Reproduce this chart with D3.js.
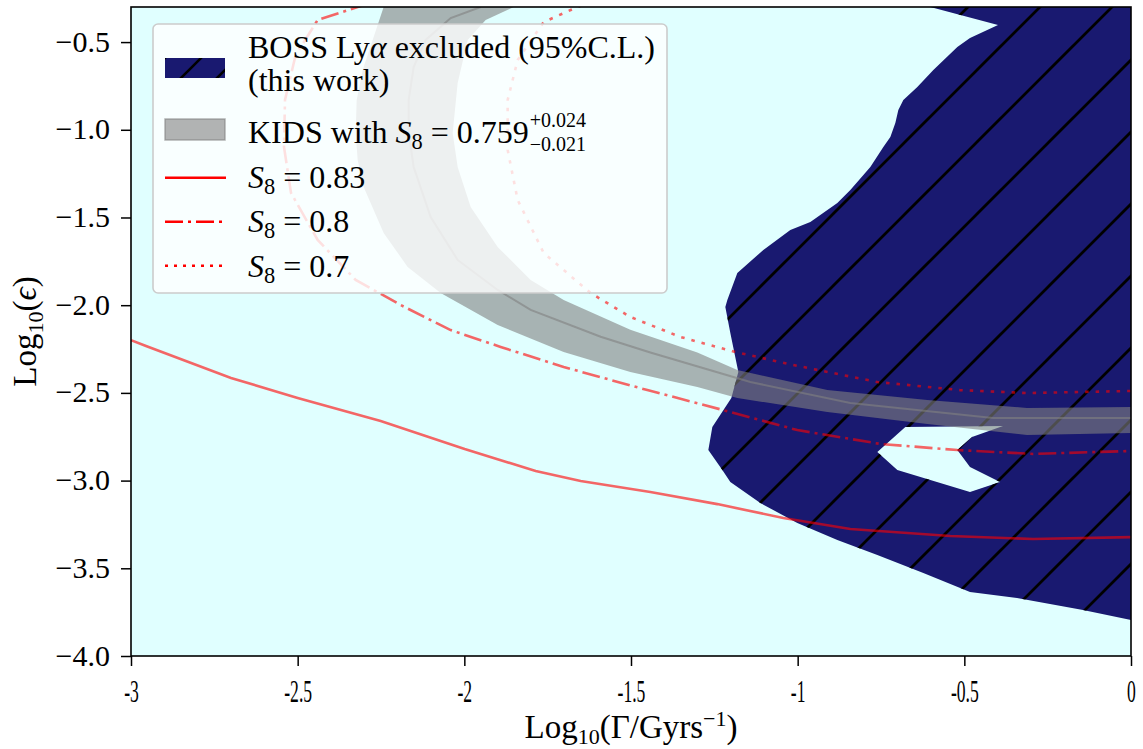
<!DOCTYPE html>
<html><head><meta charset="utf-8">
<script src="https://cdn.jsdelivr.net/npm/d3@7"></script>
<style>body{margin:0;background:#fff} svg{display:block}</style>
</head><body>
<svg id="c" width="1143" height="749"></svg>
<script>
// ---------------- data ----------------
const xDomain = [-3, 0];
const yDomain = [-4, -0.3];
const xTicks = [-3, -2.5, -2, -1.5, -1, -0.5, 0];
const xTickLabels = ["-3", "-2.5", "-2", "-1.5", "-1", "-0.5", "0"];
const yTicks = [-4.0, -3.5, -3.0, -2.5, -2.0, -1.5, -1.0, -0.5];
const yTickLabels = ["\u22124.0", "\u22123.5", "\u22123.0", "\u22122.5", "\u22122.0", "\u22121.5", "\u22121.0", "\u22120.5"];

// BOSS Ly-alpha excluded region (outer boundary) and the small allowed hole inside it
const excludedOuter = [[-0.602,-0.300],[-0.399,-0.403],[-0.483,-0.477],[-0.521,-0.528],[-0.593,-0.659],[-0.641,-0.756],[-0.683,-0.830],[-0.698,-0.887],[-0.707,-0.961],[-0.722,-1.041],[-0.743,-1.098],[-0.782,-1.212],[-0.842,-1.343],[-0.881,-1.417],[-0.962,-1.526],[-1.022,-1.571],[-1.103,-1.685],[-1.181,-1.817],[-1.211,-1.970],[-1.217,-2.010],[-1.202,-2.159],[-1.178,-2.381],[-1.199,-2.529],[-1.256,-2.695],[-1.268,-2.826],[-1.226,-2.940],[-1.202,-3.008],[-1.112,-3.128],[-1.001,-3.242],[-0.881,-3.339],[-0.761,-3.424],[-0.623,-3.527],[-0.483,-3.635],[-0.342,-3.669],[-0.144,-3.738],[0,-3.795],[0,-0.300]];
const excludedHole = [[-0.677,-2.695],[-0.384,-2.689],[-0.477,-2.752],[-0.521,-2.826],[-0.483,-2.923],[-0.393,-3.008],[-0.483,-3.065],[-0.701,-2.940],[-0.761,-2.837]];

// KIDS band S8 = 0.759 (+0.024 / -0.021)
const kidsLower = [[-2.242,-0.300],[-2.275,-0.488],[-2.305,-0.659],[-2.323,-0.830],[-2.326,-1.018],[-2.320,-1.172],[-2.302,-1.326],[-2.242,-1.588],[-2.170,-1.782],[-2.071,-1.931],[-1.900,-2.113],[-1.702,-2.267],[-1.502,-2.381],[-1.301,-2.466],[-1.181,-2.529],[-0.911,-2.609],[-0.611,-2.677],[-0.312,-2.740],[0,-2.729]];
const kidsUpper = [[-1.852,-0.300],[-1.936,-0.374],[-1.990,-0.488],[-2.020,-0.733],[-2.035,-1.018],[-2.020,-1.212],[-1.981,-1.440],[-1.900,-1.668],[-1.801,-1.856],[-1.702,-1.970],[-1.502,-2.140],[-1.301,-2.270],[-1.181,-2.370],[-0.911,-2.484],[-0.611,-2.541],[-0.312,-2.586],[0,-2.581]];
const kidsCenter = [[-1.951,-0.300],[-2.041,-0.363],[-2.116,-0.488],[-2.152,-0.642],[-2.167,-0.830],[-2.167,-1.018],[-2.152,-1.212],[-2.101,-1.497],[-2.020,-1.742],[-1.900,-1.913],[-1.801,-2.027],[-1.591,-2.180],[-1.442,-2.270],[-1.142,-2.438],[-0.842,-2.558],[-0.414,-2.643],[0,-2.643]];

// S8 contours
const s8_083 = [[-3,-2.199],[-2.955,-2.233],[-2.700,-2.415],[-2.500,-2.529],[-2.251,-2.660],[-1.999,-2.820],[-1.786,-2.945],[-1.651,-3.002],[-1.442,-3.065],[-1.241,-3.134],[-1.043,-3.213],[-0.842,-3.276],[-0.542,-3.316],[-0.294,-3.333],[0,-3.322]];
const s8_080 = [[-2.20,-0.23],[-2.320,-0.300],[-2.440,-0.374],[-2.506,-0.574],[-2.538,-0.830],[-2.541,-1.098],[-2.520,-1.360],[-2.440,-1.628],[-2.326,-1.856],[-2.191,-1.999],[-2.041,-2.142],[-1.891,-2.238],[-1.702,-2.352],[-1.451,-2.484],[-1.292,-2.563],[-1.001,-2.712],[-0.752,-2.791],[-0.521,-2.826],[-0.294,-2.848],[0,-2.831]];
const s8_070 = [[-1.59,-0.245],[-1.681,-0.317],[-1.762,-0.386],[-1.840,-0.602],[-1.870,-0.830],[-1.870,-1.115],[-1.840,-1.400],[-1.762,-1.702],[-1.621,-1.931],[-1.502,-2.067],[-1.352,-2.181],[-1.187,-2.267],[-1.013,-2.341],[-0.761,-2.438],[-0.513,-2.484],[-0.312,-2.501],[0,-2.489]];

// ---------------- drawing ----------------
const FONT = "'Liberation Serif', 'DejaVu Serif', serif";
const P = {left: 131, right: 1131, top: 7, bottom: 656};
const svg = d3.select("#c");
const x = d3.scaleLinear().domain(xDomain).range([P.left, P.right]);
const y = d3.scaleLinear().domain(yDomain).range([P.bottom, P.top]);
const line = d3.line().x(d => x(d[0])).y(d => y(d[1]));

const defs = svg.append("defs");
defs.append("clipPath").attr("id", "plotclip").append("rect")
  .attr("x", P.left).attr("y", P.top).attr("width", P.right - P.left).attr("height", P.bottom - P.top);

function hatch(id, size, off, sw) {
  const p = defs.append("pattern").attr("id", id).attr("patternUnits", "userSpaceOnUse")
    .attr("x", off).attr("y", 0).attr("width", size).attr("height", size);
  p.append("path").attr("d", `M0,${size}L${size},0M-4,4L4,-4M${size-4},${size+4}L${size+4},${size-4}`)
    .attr("stroke", "#000").attr("stroke-width", sw).attr("fill", "none");
}
hatch("hatchMain", 72, 39, 2.8);
hatch("hatchLeg", 36, 7, 2.6);

svg.append("rect").attr("width", 1143).attr("height", 749).attr("fill", "#fff");
svg.append("rect").attr("x", P.left).attr("y", P.top).attr("width", P.right - P.left)
  .attr("height", P.bottom - P.top).attr("fill", "#e0ffff");

const plot = svg.append("g").attr("clip-path", "url(#plotclip)");

const exclD = line(excludedOuter) + "Z" + line(excludedHole) + "Z";
plot.append("path").attr("d", exclD).attr("fill", "#191970").attr("fill-rule", "evenodd");
plot.append("path").attr("d", exclD).attr("fill", "url(#hatchMain)").attr("fill-rule", "evenodd");

plot.append("path").attr("d", line(kidsLower.concat(kidsUpper.slice().reverse())) + "Z")
  .attr("fill", "gray").attr("fill-opacity", 0.6);
plot.append("path").attr("d", line(kidsCenter)).attr("fill", "none")
  .attr("stroke", "gray").attr("stroke-opacity", 0.6).attr("stroke-width", 2);

const curves = [
  {data: s8_083, dash: null},
  {data: s8_080, dash: "18,5,3,5"},
  {data: s8_070, dash: "3.5,7"}
];
curves.forEach(c => {
  const p = plot.append("path").attr("d", line(c.data)).attr("fill", "none")
    .attr("stroke", "red").attr("stroke-opacity", 0.6).attr("stroke-width", 2.6);
  if (c.dash) p.attr("stroke-dasharray", c.dash);
});

// ---------------- legend ----------------
const leg = svg.append("g");
leg.append("rect").attr("x", 153).attr("y", 24).attr("width", 514).attr("height", 269)
  .attr("rx", 5).attr("fill", "#fff").attr("fill-opacity", 0.8)
  .attr("stroke", "#cccccc").attr("stroke-width", 1.6);

leg.append("rect").attr("x", 165).attr("y", 58).attr("width", 60).attr("height", 20).attr("fill", "#191970");
leg.append("rect").attr("x", 165).attr("y", 58).attr("width", 60).attr("height", 20).attr("fill", "url(#hatchLeg)");
leg.append("rect").attr("x", 165).attr("y", 119).attr("width", 60).attr("height", 21)
  .attr("fill", "gray").attr("fill-opacity", 0.6).attr("stroke", "gray").attr("stroke-opacity", 0.6).attr("stroke-width", 1.5);
[[177.7, null], [221.7, "18,5,3,5"], [265.7, "3,6"]].forEach(([ly, dash]) => {
  const l = leg.append("line").attr("x1", 165).attr("x2", 226).attr("y1", ly).attr("y2", ly)
    .attr("stroke", "red").attr("stroke-width", 2.6);
  if (dash) l.attr("stroke-dasharray", dash);
});

const LFS = 32;
function ltext(yy) {
  return leg.append("text").attr("x", 248).attr("y", yy).attr("font-family", FONT).attr("font-size", LFS).attr("fill", "#000");
}
let t = ltext(57.5);
t.append("tspan").text("BOSS Ly");
t.append("tspan").attr("font-style", "italic").text("\u03b1");
t.append("tspan").text(" excluded (95%C.L.)");
ltext(91).text("(this work)");

function s8(tx, rest) {
  tx.append("tspan").attr("font-style", "italic").text("S");
  tx.append("tspan").attr("font-size", LFS * 0.7).attr("dy", 6).text("8");
  tx.append("tspan").attr("dy", -6).text(rest);
}
t = ltext(142.5);
t.append("tspan").text("KIDS with ");
s8(t, " = 0.759");
const endX = 248 + t.node().getComputedTextLength();
leg.append("text").attr("x", endX + 1).attr("y", 127).attr("font-family", FONT).attr("font-size", 20).text("+0.024");
leg.append("text").attr("x", endX + 1).attr("y", 151).attr("font-family", FONT).attr("font-size", 20).text("\u22120.021");
s8(ltext(188.3), " = 0.83");
s8(ltext(232.3), " = 0.8");
s8(ltext(276.7), " = 0.7");

// ---------------- axes ----------------
const xAxis = svg.append("g").attr("transform", `translate(0,${P.bottom})`)
  .call(d3.axisBottom(x).tickValues(xTicks).tickFormat((d, i) => xTickLabels[i]).tickSize(10));
xAxis.select(".domain").remove();
xAxis.selectAll(".tick line").attr("stroke", "#000").attr("stroke-width", 1.5);
xAxis.selectAll(".tick text").attr("y", 46).attr("dy", 0).attr("font-family", FONT)
  .attr("font-size", 32).attr("fill", "#000").attr("transform", "scale(0.55,1)");

const yAxis = svg.append("g").attr("transform", `translate(${P.left},0)`)
  .call(d3.axisLeft(y).tickValues(yTicks).tickFormat((d, i) => yTickLabels[i]).tickSize(10).tickPadding(11));
yAxis.select(".domain").remove();
yAxis.selectAll(".tick line").attr("stroke", "#000").attr("stroke-width", 1.5);
yAxis.selectAll(".tick text").attr("dy", 0).attr("y", 9).attr("font-family", FONT)
  .attr("font-size", 30).attr("fill", "#000");

svg.append("rect").attr("x", P.left).attr("y", P.top).attr("width", P.right - P.left)
  .attr("height", P.bottom - P.top).attr("fill", "none").attr("stroke", "#000").attr("stroke-width", 1.6);

// axis labels
const xl = svg.append("text").attr("x", (P.left + P.right) / 2).attr("y", 738)
  .attr("text-anchor", "middle").attr("font-family", FONT).attr("font-size", 33);
xl.append("tspan").text("Log");
xl.append("tspan").attr("font-size", 22).attr("dy", 6).text("10");
xl.append("tspan").attr("dy", -6).text("(\u0393/Gyrs");
xl.append("tspan").attr("font-size", 22).attr("dy", -12).text("\u22121");
xl.append("tspan").attr("dy", 12).text(")");

const yl = svg.append("text").attr("transform", `translate(36,${(P.top + P.bottom) / 2}) rotate(-90)`)
  .attr("text-anchor", "middle").attr("font-family", FONT).attr("font-size", 33);
yl.append("tspan").text("Log");
yl.append("tspan").attr("font-size", 22).attr("dy", 7).text("10");
yl.append("tspan").attr("dy", -7).text("(");
yl.append("tspan").attr("font-style", "italic").text("\u03f5");
yl.append("tspan").text(")");
</script>
</body></html>
